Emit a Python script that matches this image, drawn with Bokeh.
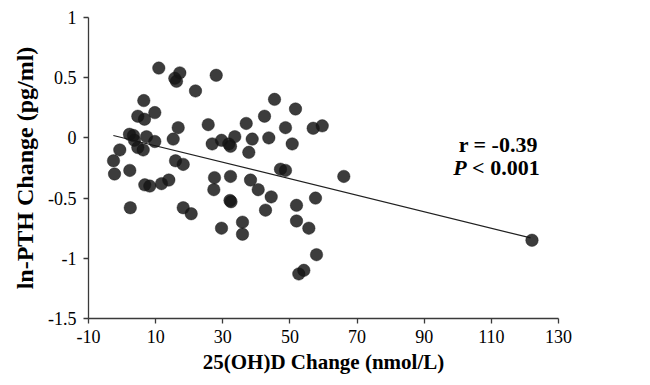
from bokeh.plotting import figure
from bokeh.models import Range1d, FixedTicker, Label
from bokeh.embed import file_html
from bokeh.resources import INLINE

# 25(OH)D change (nmol/L) vs ln-PTH change (pg/ml)
vitd_change = [-2.55, -2.25, -0.68, 2.30, 2.45, 2.21, 3.40, 3.70, 4.69, 6.68,
               6.47, 9.75, 7.28, 9.75, 4.69, 6.29, 6.77, 8.26, 10.94, 11.75,
               13.92, 15.23, 16.72, 15.71, 17.20, 16.21, 15.92, 18.21, 18.21, 20.59,
               21.87, 25.66, 26.85, 27.53, 27.33, 28.04, 29.62, 31.79, 32.30, 29.62,
               32.30, 32.15, 32.45, 33.58, 35.87, 35.87, 36.98, 37.75, 38.26, 38.76,
               40.55, 42.43, 42.73, 43.71, 44.42, 45.41, 47.19, 48.68, 48.68, 50.68,
               51.66, 51.96, 51.96, 52.65, 54.14, 55.63, 56.93, 57.62, 57.92, 59.62,
               66.05, 122.1]
pth_change = [-0.19, -0.30, -0.10, -0.27, -0.58, 0.03, 0.02, -0.02, 0.18, 0.155,
              0.31, 0.21, 0.01, -0.03, -0.08, -0.10, -0.39, -0.40, 0.58, -0.38,
              -0.35, -0.01, 0.085, 0.495, 0.54, 0.47, -0.19, -0.22, -0.58, -0.63,
              0.39, 0.11, -0.05, -0.33, -0.43, 0.52, -0.02, -0.05, -0.07, -0.75,
              -0.32, -0.52, -0.53, 0.01, -0.70, -0.80, 0.12, -0.12, -0.35, -0.01,
              -0.43, 0.18, -0.60, 0.0, -0.49, 0.32, -0.26, -0.27, 0.085, -0.05,
              0.24, -0.56, -0.69, -1.13, -1.10, -0.75, 0.08, -0.50, -0.97, 0.10,
              -0.32, -0.85]

# regression line end points
fit_x = [-2.6, 121.7]
fit_y = [0.02, -0.83]

x_ticks = [-10, 10, 30, 50, 70, 90, 110, 130]
x_tick_labels = ["-10", "10", "30", "50", "70", "90", "110", "130"]
y_ticks = [-1.5, -1.0, -0.5, 0.0, 0.5, 1.0]
y_tick_labels = ["-1.5", "-1", "-0.5", "0", "0.5", "1"]

r_text = "r = -0.39"
p_text_italic = "P"
p_text_rest = "< 0.001"

FONT = "Liberation Serif"

p = figure(width=648, height=383, output_backend="svg", toolbar_location=None,
           x_range=Range1d(-10, 130), y_range=Range1d(-1.5, 1),
           min_border_left=88, min_border_right=90, min_border_top=17,
           min_border_bottom=65)
p.outline_line_color = None
p.grid.visible = False
p.background_fill_color = "white"
p.border_fill_color = "white"

p.xaxis.ticker = FixedTicker(ticks=x_ticks)
p.yaxis.ticker = FixedTicker(ticks=y_ticks)
p.xaxis.major_label_overrides = {float(t): l for t, l in zip(x_ticks, x_tick_labels)}
p.yaxis.major_label_overrides = {float(t): l for t, l in zip(y_ticks, y_tick_labels)}

for ax in (p.xaxis[0], p.yaxis[0]):
    ax.axis_line_color = "#3a3a3a"
    ax.axis_line_width = 1.3
    ax.major_tick_line_color = "#3a3a3a"
    ax.major_tick_line_width = 1.3
    ax.major_tick_out = 5
    ax.major_tick_in = 0
    ax.minor_tick_line_color = None
    ax.major_label_text_font = FONT
    ax.major_label_text_font_size = "18px"
    ax.major_label_text_color = "black"
    ax.axis_label_text_font = FONT
    ax.axis_label_text_font_style = "bold"
    ax.axis_label_text_color = "black"

p.xaxis.axis_label = "25(OH)D Change (nmol/L)"
p.yaxis.axis_label = "ln-PTH Change (pg/ml)"
p.xaxis.axis_label_text_font_size = "21px"
p.yaxis.axis_label_text_font_size = "24px"
p.xaxis.major_label_standoff = 6
p.xaxis.axis_label_standoff = 4
p.yaxis.major_label_standoff = 7
p.yaxis.axis_label_standoff = 7

p.line(fit_x, fit_y, line_color="#202020", line_width=1.2)
p.scatter(vitd_change, pth_change, size=12.5, marker="circle",
          fill_color="#141414", fill_alpha=0.83, line_color="#141414",
          line_alpha=0.5, line_width=0.8)

p.add_layout(Label(x=123.84, y=-0.058, text=r_text, text_align="right",
                   text_baseline="alphabetic", text_font=FONT,
                   text_font_size="22px", text_font_style="bold",
                   text_color="black"))
p.add_layout(Label(x=98.64, y=-0.246, text=p_text_italic, text_align="left",
                   text_baseline="alphabetic", text_font=FONT,
                   text_font_size="22px", text_font_style="bold italic",
                   text_color="black"))
p.add_layout(Label(x=104.27, y=-0.246, text=p_text_rest, text_align="left",
                   text_baseline="alphabetic", text_font=FONT,
                   text_font_size="22px", text_font_style="bold",
                   text_color="black"))

open("out.html", "w").write(file_html(p, INLINE))
